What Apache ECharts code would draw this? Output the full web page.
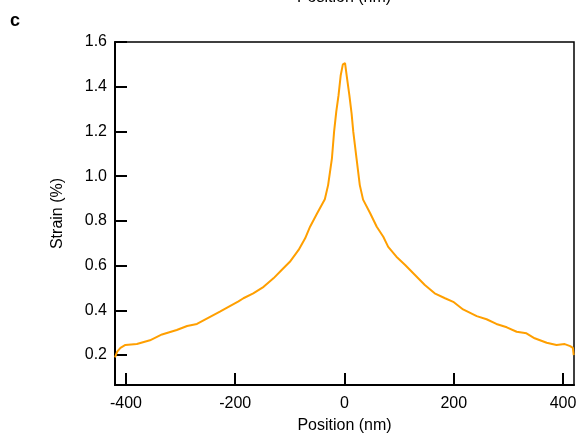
<!DOCTYPE html>
<html>
<head>
<meta charset="utf-8">
<title>Strain profile</title>
<script src="https://cdn.jsdelivr.net/npm/echarts@6/dist/echarts.min.js"></script>
<style>
  html, body { margin: 0; padding: 0; background: #fff; }
  #chart { width: 581px; height: 441px; }
</style>
</head>
<body>
<div id="chart"></div>
<script>
// position (nm)
var positions = [
  -420, -416, -410, -401, -380, -356, -334, -307, -288, -270, -252, -228, -209, -194,
  -185, -167, -148, -130, -115, -100, -84, -72, -63, -50, -36, -30, -23, -19, -15,
  -11, -7, -3, 1, 4, 9, 13, 16, 22, 28, 34, 47, 59, 71, 80, 95, 111, 129, 147, 165,
  184, 199, 217, 242, 260, 278, 297, 315, 333, 348, 370, 388, 403, 413, 418, 419.5
];
// strain (%)
var strain = [
  0.19, 0.215, 0.232, 0.245, 0.249, 0.266, 0.292, 0.312, 0.330, 0.339, 0.363, 0.394, 0.420, 0.440,
  0.454, 0.476, 0.505, 0.543, 0.580, 0.617, 0.670, 0.722, 0.774, 0.834, 0.897, 0.96, 1.08, 1.20, 1.29,
  1.36, 1.45, 1.50, 1.505, 1.45, 1.36, 1.28, 1.20, 1.08, 0.96, 0.895, 0.834, 0.774, 0.729, 0.684, 0.640, 0.603, 0.558, 0.513, 0.476,
  0.454, 0.438, 0.404, 0.374, 0.360, 0.339, 0.324, 0.304, 0.297, 0.275, 0.255, 0.245, 0.249, 0.240, 0.232, 0.20
];
var xTicks = [-400, -200, 0, 200, 400];
var yTicks = [0.2, 0.4, 0.6, 0.8, 1.0, 1.2, 1.4, 1.6];

var myChart = echarts.init(document.getElementById('chart'));
var fontFamily = 'Liberation Sans, Arial, sans-serif';
var lineData = positions.map(function (p, i) { return [p, strain[i]]; });

var option = {
  animation: false,
  grid: {
    left: 115,
    right: 7,
    top: 42,
    bottom: 56,
    show: true,
    borderColor: '#000',
    borderWidth: 1.5,
    containLabel: false
  },
  graphic: [
    {
      type: 'text',
      left: 10,
      top: 12,
      style: { text: 'c', font: 'bold 18px ' + fontFamily, fill: '#000' }
    },
    {
      type: 'text',
      x: 344,
      y: 6,
      style: {
        text: 'Position (nm)', font: '16px ' + fontFamily, fill: '#000',
        align: 'center', verticalAlign: 'bottom'
      }
    }
  ],
  xAxis: {
    type: 'value',
    min: -420,
    max: 420,
    name: 'Position (nm)',
    nameLocation: 'middle',
    nameGap: 33,
    nameTextStyle: { fontSize: 16, color: '#000', fontFamily: fontFamily },
    axisLine: { show: true, onZero: false, lineStyle: { color: '#000', width: 2 } },
    axisTick: { show: true, inside: true, length: 12, lineStyle: { color: '#000', width: 2 }, customValues: xTicks },
    axisLabel: { color: '#000', fontSize: 16, fontFamily: fontFamily, margin: 11, customValues: xTicks },
    splitLine: { show: false }
  },
  yAxis: {
    type: 'value',
    min: 0.066,
    max: 1.6,
    name: 'Strain (%)',
    nameLocation: 'middle',
    nameGap: 49,
    nameTextStyle: { fontSize: 16, color: '#000', fontFamily: fontFamily },
    axisLine: { show: true, onZero: false, lineStyle: { color: '#000', width: 2 } },
    axisTick: { show: true, inside: true, length: 12, lineStyle: { color: '#000', width: 2 }, customValues: yTicks },
    axisLabel: {
      color: '#000', fontSize: 16, fontFamily: fontFamily, margin: 8, customValues: yTicks,
      formatter: function (v) { return v.toFixed(1); }
    },
    splitLine: { show: false }
  },
  series: [
    {
      type: 'line',
      data: lineData,
      showSymbol: false,
      smooth: false,
      lineStyle: { color: '#ff9f00', width: 2 },
      itemStyle: { color: '#ff9f00' }
    }
  ]
};
myChart.setOption(option);
</script>
</body>
</html>
